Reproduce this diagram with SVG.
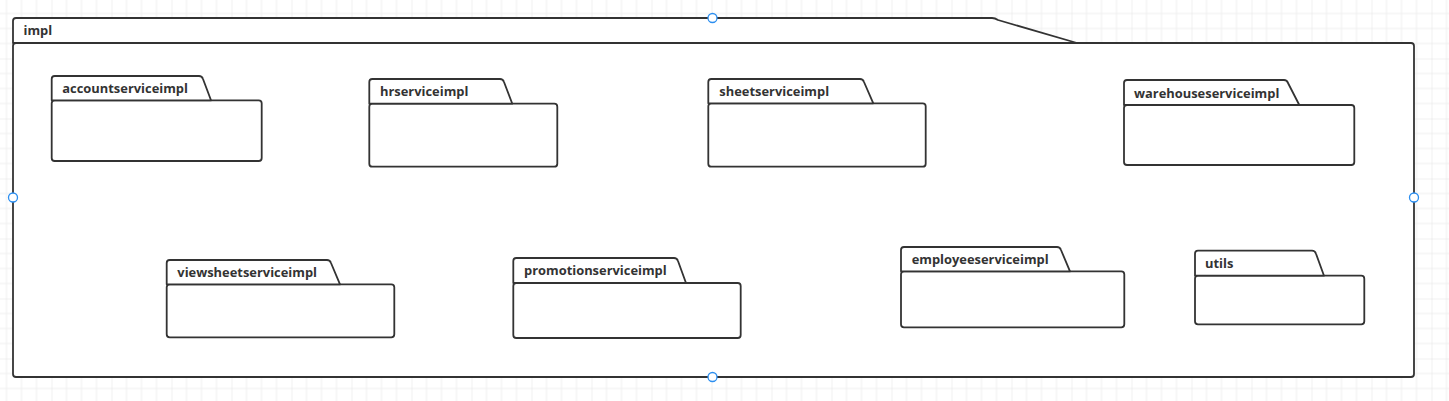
<svg xmlns="http://www.w3.org/2000/svg" width="1449" height="401" viewBox="0 0 1449 401">
  <defs>
    <pattern id="grid" patternUnits="userSpaceOnUse" x="51.5" y="58.5" width="60" height="60">
      <path d="M15,0V60M30,0V60M45,0V60M0,15H60M0,30H60M0,45H60" stroke="#efefef" stroke-width="1" fill="none"/>
      <path d="M0,0V60M0,0H60" stroke="#e2e2e2" stroke-width="1" fill="none"/>
    </pattern>
  </defs>
  <style>
    .shape { fill: #ffffff; stroke: #333333; stroke-width: 1.8; stroke-linejoin: round; }
    .lbl { font-family: "Open Sans", "Liberation Sans", sans-serif; font-size: 12.9px; font-weight: bold; fill: #333333; }
    .handle { fill: #ffffff; stroke: #2b8ef0; stroke-width: 1.3; }
  </style>
  <rect x="0" y="0" width="1449" height="401" fill="#ffffff"/>
  <rect x="0" y="0" width="1449" height="401" fill="url(#grid)"/>

  <g id="impl">
    <rect class="shape" x="13" y="43" width="1401" height="334" rx="3"/>
    <path class="shape" d="M13,43 L13,21 Q13,18 16,18 L992,18 Q995,18 998,20 L1077,43 Z"/>
    <text class="lbl" x="23.5" y="35">impl</text>
  </g>

  <g id="accountserviceimpl">
    <rect class="shape" x="51.7" y="100.3" width="210" height="60.7" rx="3"/>
    <path class="shape" d="M51.7,100.3 L51.7,79 Q51.7,76 54.7,76 L199,76 Q202,76 203,79 L211,100.3 Z"/>
    <text class="lbl" x="62.3" y="92.7">accountserviceimpl</text>
  </g>

  <g id="hrserviceimpl">
    <rect class="shape" x="369.3" y="103.7" width="188" height="63" rx="3"/>
    <path class="shape" d="M369.3,103.7 L369.3,82 Q369.3,79 372.3,79 L500,79 Q503,79 504,82 L512.3,103.7 Z"/>
    <text class="lbl" x="380" y="96">hrserviceimpl</text>
  </g>

  <g id="sheetserviceimpl">
    <rect class="shape" x="708.3" y="103.3" width="217.4" height="63.4" rx="3"/>
    <path class="shape" d="M708.3,103.3 L708.3,82 Q708.3,79 711.3,79 L860,79 Q863,79 864,82 L873.3,103.3 Z"/>
    <text class="lbl" x="719.3" y="96">sheetserviceimpl</text>
  </g>

  <g id="warehouseserviceimpl">
    <rect class="shape" x="1124" y="105" width="230.3" height="60" rx="3"/>
    <path class="shape" d="M1124,105 L1124,83 Q1124,80 1127,80 L1284,80 Q1287,80 1288,83 L1299.3,105 Z"/>
    <text class="lbl" x="1134" y="97.5">warehouseserviceimpl</text>
  </g>

  <g id="viewsheetserviceimpl">
    <rect class="shape" x="166.7" y="284.3" width="227.6" height="53" rx="3"/>
    <path class="shape" d="M166.7,284.3 L166.7,263 Q166.7,260 169.7,260 L327,260 Q330,260 331,263 L340,284.3 Z"/>
    <text class="lbl" x="177.3" y="277">viewsheetserviceimpl</text>
  </g>

  <g id="promotionserviceimpl">
    <rect class="shape" x="513.3" y="283" width="227.4" height="55" rx="3"/>
    <path class="shape" d="M513.3,283 L513.3,261 Q513.3,258 516.3,258 L674,258 Q677,258 678,261 L686,283 Z"/>
    <text class="lbl" x="524" y="275">promotionserviceimpl</text>
  </g>

  <g id="employeeserviceimpl">
    <rect class="shape" x="901" y="271.3" width="223.3" height="56" rx="3"/>
    <path class="shape" d="M901,271.3 L901,250 Q901,247 904,247 L1057,247 Q1060,247 1061,250 L1070,271.3 Z"/>
    <text class="lbl" x="911.7" y="264">employeeserviceimpl</text>
  </g>

  <g id="utils">
    <rect class="shape" x="1195" y="275.7" width="169.3" height="48.6" rx="3"/>
    <path class="shape" d="M1195,275.7 L1195,253.7 Q1195,250.7 1198,250.7 L1312,250.7 Q1315,250.7 1316,253.7 L1324,275.7 Z"/>
    <text class="lbl" x="1205" y="267.5">utils</text>
  </g>

  <g id="connectors"></g>

  <g id="handles">
    <circle class="handle" cx="712.5" cy="18" r="4.5"/>
    <circle class="handle" cx="13" cy="197.5" r="4.5"/>
    <circle class="handle" cx="1414" cy="197.5" r="4.5"/>
    <circle class="handle" cx="712.5" cy="377" r="4.5"/>
  </g>
</svg>
